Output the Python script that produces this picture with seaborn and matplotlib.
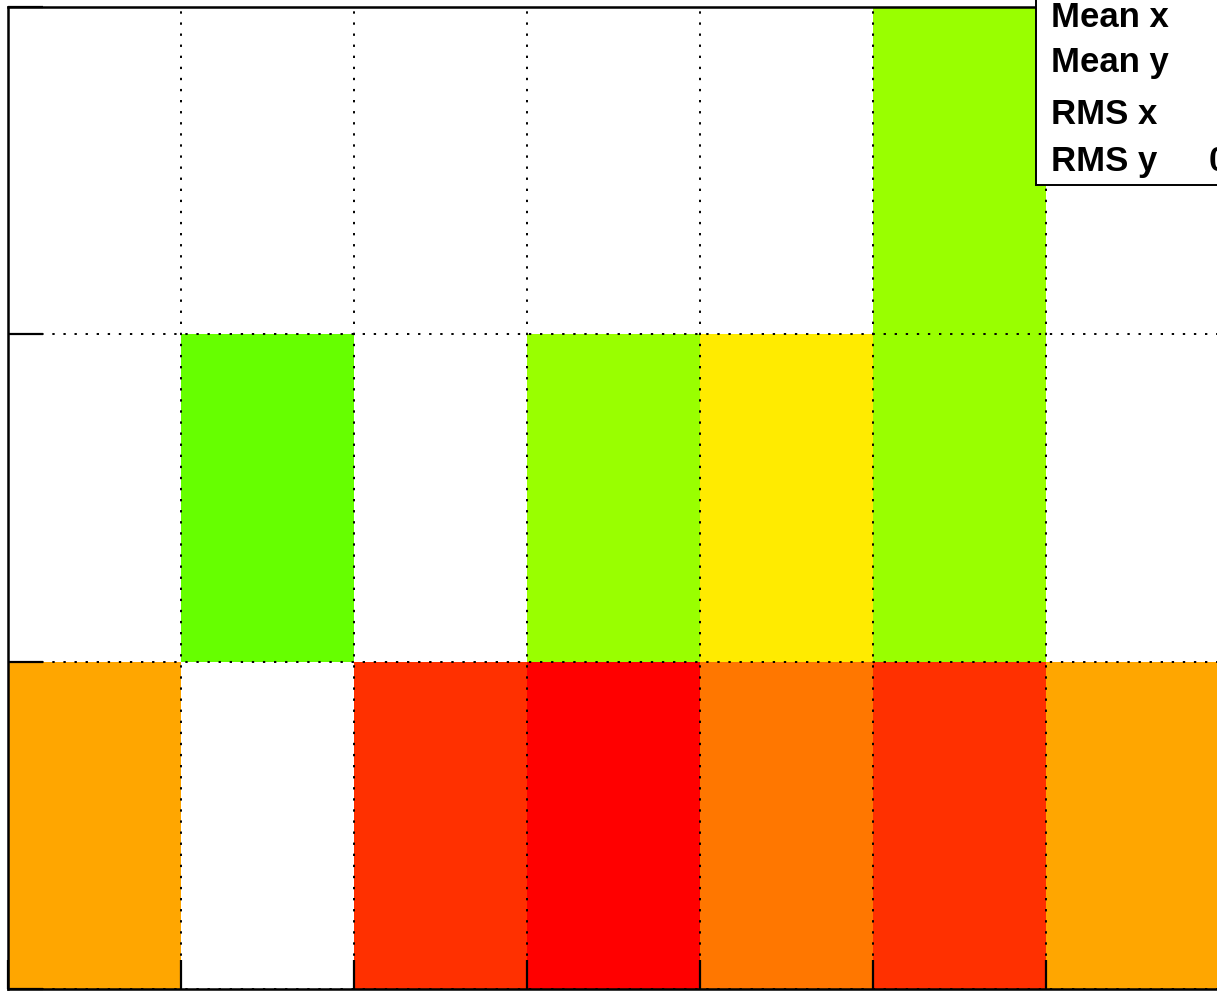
import numpy as np
import pandas as pd
import matplotlib
matplotlib.use("Agg")
import matplotlib.pyplot as plt
from matplotlib.colors import ListedColormap
from matplotlib.patches import Rectangle
import seaborn as sns

# Bin contents (rows listed top to bottom), 0 = empty bin
row_top = [0, 0, 0, 0, 0, 5, 0]
row_mid = [0, 4, 0, 5, 6, 5, 0]
row_bot = [7, 0, 9, 10, 8, 9, 7]
x_bins = [1, 2, 3, 4, 5, 6, 7]
y_bins = [3, 2, 1]

stat_labels = ["Mean x", "Mean y", "RMS x", "RMS y"]
stat_values = ["", "", "", "0.8165"]

palette = ["#66ff00", "#99ff00", "#ffeb00", "#ffa600", "#ff7700", "#ff3000", "#ff0000"]

W, H = 1217, 991
fig = plt.figure(figsize=(W / 100, H / 100), dpi=100)
sns.set_style("white")
plt.rcParams["font.family"] = ["Liberation Sans", "DejaVu Sans"]

ax = fig.add_axes([8 / W, 2 / H, 1211 / W, 982 / H])
df = pd.DataFrame([row_top, row_mid, row_bot], index=y_bins, columns=x_bins)
sns.heatmap(df, mask=(df == 0), cmap=ListedColormap(palette), vmin=3.5, vmax=10.5,
            cbar=False, ax=ax, linewidths=0)

ax.set_xticks(np.arange(len(x_bins) + 1))
ax.set_yticks(np.arange(len(y_bins) + 1))
ax.set_xticklabels([])
ax.set_yticklabels([])
ax.set_xlabel("")
ax.set_ylabel("")
ax.set_xlim(0, len(x_bins))
ax.set_ylim(len(y_bins), 0)
ax.grid(True, which="major", color="black", linestyle=(0, (1.2, 4.5)), linewidth=1.4, zorder=5)
ax.set_axisbelow(False)
ax.tick_params(axis="x", direction="in", length=21, width=1.6, color="black", bottom=True, top=False)
ax.tick_params(axis="y", direction="in", length=25, width=1.6, color="black", left=True, right=False)
for side, sp in ax.spines.items():
    sp.set_visible(True)
    sp.set_color("black")
    sp.set_linewidth(1.8)
    sp.set_zorder(6)

# statistics box (partially outside the figure)
box = Rectangle((1036 / W, 1 - 185 / H), 400 / W, 300 / H, transform=fig.transFigure,
                facecolor="white", edgecolor="black", linewidth=1.4, zorder=10)
fig.add_artist(box)
baselines = [27, 72, 124, 171]
for lab, val, yb in zip(stat_labels, stat_values, baselines):
    fig.text(1051 / W, 1 - yb / H, lab, fontsize=25, fontweight="bold", va="baseline",
             ha="left", color="black", zorder=11)
    if val:
        fig.text(1209 / W, 1 - yb / H, val, fontsize=25, fontweight="bold", va="baseline",
                 ha="left", color="black", zorder=11)

fig.savefig("out.png", dpi=100, facecolor="white")
